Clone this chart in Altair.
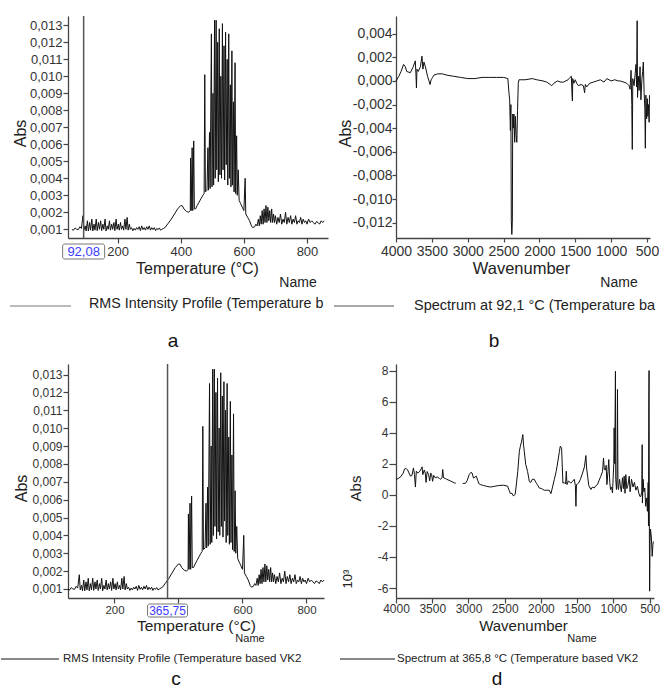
import altair as alt
import pandas as pd

# ---------------- data ----------------
# RMS intensity profile: (temperature °C, Abs)
rms_points = [
    (55, 0.00098), (60, 0.00095), (65, 0.00108), (70, 0.00100), (75, 0.00098), (80, 0.00115),
    (85, 0.00105), (90, 0.00180), (93, 0.00095), (97, 0.00120), (100, 0.00090), (104, 0.00150),
    (107, 0.00090), (111, 0.00140), (114, 0.00095), (118, 0.00160), (121, 0.00090), (125, 0.00130),
    (128, 0.00095), (132, 0.00160), (135, 0.00092), (139, 0.00140), (142, 0.00100), (146, 0.00150),
    (149, 0.00092), (153, 0.00130), (156, 0.00100), (160, 0.00160), (163, 0.00090), (167, 0.00120),
    (170, 0.00100), (174, 0.00150), (177, 0.00095), (181, 0.00130), (184, 0.00100), (188, 0.00140),
    (191, 0.00092), (195, 0.00160), (198, 0.00100), (202, 0.00130), (205, 0.00095), (209, 0.00140),
    (212, 0.00100), (216, 0.00120), (219, 0.00095), (223, 0.00160), (226, 0.00100), (230, 0.00170),
    (233, 0.00095), (237, 0.00130), (240, 0.00100), (244, 0.00110), (248, 0.00092), (252, 0.00105),
    (256, 0.00095), (260, 0.00110), (264, 0.00100), (268, 0.00115), (272, 0.00092), (276, 0.00120),
    (280, 0.00098), (284, 0.00110), (288, 0.00095), (292, 0.00115), (296, 0.00100), (300, 0.00120),
    (304, 0.00095), (308, 0.00110), (312, 0.00098), (316, 0.00110), (320, 0.00092), (324, 0.00105),
    (328, 0.00098), (332, 0.00108), (336, 0.00095), (340, 0.00100), (345, 0.00105), (350, 0.00110),
    (360, 0.00135), (370, 0.00160), (380, 0.00190), (390, 0.00220), (400, 0.00240), (405, 0.00238),
    (410, 0.00220), (418, 0.00205), (425, 0.00200), (430, 0.00210), (431, 0.00520), (433, 0.00210),
    (436, 0.00580), (438, 0.00210), (441, 0.00620), (443, 0.00220), (447, 0.00220), (452, 0.00240),
    (458, 0.00260), (464, 0.00280), (470, 0.00300), (474, 0.00310), (476, 0.01010), (478, 0.00320),
    (483, 0.00330), (486, 0.00580), (488, 0.00330), (491, 0.00670), (493, 0.00340), (497, 0.01250),
    (499, 0.00350), (502, 0.00900), (504, 0.00360), (507, 0.01330), (509, 0.00400), (512, 0.01330),
    (514, 0.00450), (517, 0.01200), (519, 0.00380), (522, 0.01280), (524, 0.00420), (527, 0.01000),
    (529, 0.00400), (532, 0.01310), (534, 0.00450), (537, 0.01180), (539, 0.00390), (542, 0.01260),
    (544, 0.00480), (547, 0.01100), (549, 0.00360), (552, 0.01250), (554, 0.00400), (557, 0.00950),
    (559, 0.00350), (562, 0.01150), (564, 0.00360), (567, 0.00850), (569, 0.00320), (572, 0.01080),
    (574, 0.00310), (577, 0.00650), (579, 0.00300), (582, 0.00450), (585, 0.00270), (590, 0.00250),
    (595, 0.00230), (600, 0.00210), (604, 0.00400), (606, 0.00190), (612, 0.00170), (618, 0.00150),
    (624, 0.00120), (628, 0.00110), (634, 0.00115), (638, 0.00130), (642, 0.00120), (646, 0.00160),
    (649, 0.00120), (652, 0.00180), (655, 0.00130), (658, 0.00210), (661, 0.00130), (664, 0.00220),
    (667, 0.00140), (670, 0.00240), (673, 0.00140), (676, 0.00230), (679, 0.00150), (682, 0.00210),
    (685, 0.00140), (688, 0.00220), (691, 0.00140), (694, 0.00190), (697, 0.00140), (700, 0.00180),
    (704, 0.00130), (708, 0.00170), (712, 0.00140), (716, 0.00190), (720, 0.00130), (724, 0.00160),
    (728, 0.00140), (732, 0.00200), (736, 0.00130), (740, 0.00170), (744, 0.00140), (748, 0.00180),
    (752, 0.00130), (756, 0.00160), (760, 0.00140), (764, 0.00180), (768, 0.00130), (772, 0.00150),
    (776, 0.00140), (780, 0.00170), (784, 0.00130), (788, 0.00160), (792, 0.00140), (796, 0.00150),
    (800, 0.00130), (805, 0.00160), (810, 0.00140), (815, 0.00150), (820, 0.00140), (825, 0.00130),
    (830, 0.00145), (835, 0.00140), (840, 0.00130), (845, 0.00150), (850, 0.00140), (855, 0.00150),
]
rms_temp = [p[0] for p in rms_points]
rms_abs = [p[1] for p in rms_points]

# Spectrum at 92,1 °C: (wavenumber, Abs)
spec_b_points = [
    (4000, 0.0000), (3960, 0.0004), (3930, 0.0008), (3894, 0.0014), (3870, 0.0012), (3850, 0.0008),
    (3800, 0.0007), (3760, 0.0012), (3731, 0.0017), (3722, 0.0006), (3715, -0.0006), (3708, 0.0010),
    (3690, 0.0008), (3660, 0.0012), (3638, 0.0021), (3625, 0.0010), (3610, 0.0016), (3590, 0.0012),
    (3560, 0.0004), (3540, 0.0000), (3525, -0.0003), (3510, 0.0001), (3490, 0.0003), (3470, 0.0005),
    (3420, 0.0006), (3350, 0.0006), (3300, 0.0005), (3200, 0.0004), (3100, 0.0003), (3000, 0.0002),
    (2900, 0.0002), (2800, 0.0003), (2700, 0.0003), (2600, 0.0003), (2500, 0.0003), (2440, 0.0002),
    (2425, -0.0010), (2415, -0.0016), (2405, -0.0042), (2398, -0.0020), (2392, -0.0118), (2385, -0.0130),
    (2378, -0.0120), (2372, -0.0028), (2365, -0.0040), (2355, -0.0028), (2345, -0.0052), (2335, -0.0030),
    (2325, -0.0046), (2315, -0.0052), (2305, -0.0025), (2295, -0.0002), (2285, 0.0001), (2270, 0.0001),
    (2200, 0.0001), (2100, 0.0002), (2036, 0.0001), (1950, 0.0000), (1897, -0.0001), (1850, -0.0003),
    (1827, -0.0004), (1800, -0.0002), (1750, 0.0000), (1700, -0.0001), (1666, -0.0001), (1600, 0.0001),
    (1573, 0.0003), (1555, 0.0004), (1545, -0.0012), (1540, -0.0017), (1535, 0.0002), (1520, -0.0002),
    (1500, 0.0001), (1480, -0.0002), (1457, -0.0004), (1420, -0.0003), (1387, -0.0004), (1370, -0.0010),
    (1360, -0.0003), (1340, -0.0005), (1300, -0.0002), (1250, -0.0001), (1200, 0.0000), (1150, 0.0001),
    (1100, -0.0001), (1060, 0.0002), (1000, 0.0000), (950, 0.0001), (900, 0.0000), (875, 0.0000),
    (820, -0.0001), (782, -0.0002), (750, -0.0004), (736, -0.0007), (722, 0.0009), (712, -0.0020),
    (705, -0.0058), (698, 0.0002), (680, -0.0004), (665, 0.0006), (653, 0.0014), (645, -0.0005),
    (637, 0.0051), (632, -0.0014), (620, 0.0004), (610, -0.0008), (597, 0.0012), (585, -0.0016),
    (570, 0.0002), (560, 0.0008), (551, 0.0016), (540, -0.0010), (530, -0.0023), (523, -0.0057),
    (515, -0.0012), (505, -0.0032), (495, -0.0015), (488, -0.0030), (480, -0.0020), (470, -0.0035),
    (465, -0.0012),
]
spec_b_wn = [p[0] for p in spec_b_points]
spec_b_abs = [p[1] for p in spec_b_points]

# Spectrum at 365,8 °C (Abs in units of 10^-3), two segments (gap ~3170-3080)
spec_d1_points = [
    (4000, 0.98), (3970, 1.05), (3938, 1.15), (3900, 1.40), (3883, 1.66), (3860, 1.70), (3840, 1.60),
    (3800, 1.20), (3780, 1.25), (3759, 1.73), (3745, 1.30), (3732, 0.50), (3720, 1.52), (3700, 1.40),
    (3670, 1.52), (3640, 1.80), (3630, 1.30), (3610, 1.60), (3596, 1.40), (3585, 0.80), (3570, 1.50),
    (3550, 1.30), (3535, 0.90), (3520, 1.40), (3508, 1.30), (3495, 0.87), (3480, 1.25), (3460, 1.10),
    (3430, 1.15), (3400, 1.05), (3383, 1.00), (3365, 1.10), (3355, 1.63), (3345, 1.10), (3320, 1.05),
    (3300, 1.00), (3250, 0.90), (3194, 0.77), (3175, 0.75),
]
spec_d2_points = [
    (3080, 0.73), (3040, 0.75), (3020, 0.90), (2990, 1.30), (2965, 1.45), (2950, 1.40), (2930, 1.08),
    (2892, 1.20), (2870, 0.90), (2860, 0.73), (2830, 0.65), (2792, 0.60), (2750, 0.55), (2696, 0.50),
    (2640, 0.55), (2581, 0.60), (2520, 0.62), (2460, 0.56), (2440, 0.30), (2421, 0.08), (2400, 0.10),
    (2385, -0.05), (2372, -0.06), (2355, 0.05), (2345, 0.44), (2320, 1.50), (2298, 2.80), (2285, 3.10),
    (2267, 3.45), (2250, 3.88), (2240, 3.20), (2230, 2.80), (2210, 1.95), (2184, 1.50), (2160, 0.85),
    (2140, 0.80), (2120, 1.00), (2092, 1.00), (2070, 0.80), (2050, 0.66), (2023, 0.44), (1990, 0.40),
    (1954, 0.29), (1920, 0.30), (1885, 0.29), (1862, 0.08), (1840, 0.50), (1816, 0.98), (1790, 1.50),
    (1770, 2.05), (1745, 2.80), (1733, 3.13), (1715, 3.00), (1697, 0.76), (1680, 0.80), (1660, 0.70),
    (1650, 1.52), (1641, 0.66), (1620, 0.90), (1590, 0.75), (1564, 0.87), (1540, 1.00), (1525, 0.60),
    (1517, -0.74), (1510, 0.66), (1495, 0.70), (1480, 0.76), (1455, 1.00), (1426, 1.40), (1400, 1.80),
    (1380, 2.53), (1370, 1.73), (1356, 1.20), (1340, 0.60), (1311, 0.34), (1290, 0.50), (1265, 0.44),
    (1240, 0.60), (1220, 0.66), (1200, 0.90), (1174, 1.20), (1150, 1.50), (1137, 2.37), (1125, 1.63),
    (1110, 1.60), (1100, 1.90), (1090, 0.66), (1075, 1.50), (1064, 2.27), (1050, 0.80), (1040, 0.34),
    (1025, 0.50), (1013, 0.12), (995, 2.00), (990, 4.31), (982, 2.00), (972, 7.95), (968, 1.00),
    (958, 0.34), (950, 1.20), (944, 6.78), (937, 0.50), (930, 0.34), (915, 1.00), (905, 0.60),
    (891, 0.20), (875, 1.10), (862, 0.40), (852, 1.20), (840, 0.10), (829, 1.30), (815, 0.40),
    (800, 0.60), (782, 1.20), (770, 0.20), (750, 1.00), (730, 0.50), (710, 0.80), (690, 0.30),
    (669, 0.55), (650, 0.12), (635, -0.10), (622, -0.10), (608, 0.20), (603, 3.23), (600, -0.53),
    (590, 1.00), (580, 0.20), (567, 0.44), (555, -0.74), (540, -0.20), (531, -1.06), (520, 0.80),
    (516, -2.00), (512, 5.91), (508, 8.00), (505, -1.00), (500, -6.20), (495, -3.00), (488, -2.20),
    (476, -2.78), (465, -3.96), (455, -3.20), (448, -3.00),
]

temp_ticks = [200, 400, 600, 800]
wn_ticks = [4000, 3500, 3000, 2500, 2000, 1500, 1000, 500]
rms_ticks = [0.001, 0.002, 0.003, 0.004, 0.005, 0.006, 0.007, 0.008, 0.009, 0.010, 0.011, 0.012, 0.013]
b_ticks = [-0.012, -0.010, -0.008, -0.006, -0.004, -0.002, 0.000, 0.002, 0.004]
d_ticks = [-6, -4, -2, 0, 2, 4, 6, 8]

# ---------------- tables ----------------
rms_df = pd.DataFrame({"x": rms_temp, "y": rms_abs})
b_df = pd.DataFrame({"x": spec_b_wn, "y": spec_b_abs})
d_df = pd.concat([
    pd.DataFrame({"x": [p[0] for p in spec_d1_points], "y": [p[1] for p in spec_d1_points], "seg": "1"}),
    pd.DataFrame({"x": [p[0] for p in spec_d2_points], "y": [p[1] for p in spec_d2_points], "seg": "2"}),
])
one = pd.DataFrame({"k": [0]})

LINE = "#111111"
FONT = "Arial"
INT = "format(datum.value, 'd')"
INT_NO400 = "datum.value == 400 ? '' : format(datum.value, 'd')"
COMMA3 = "replace(format(datum.value, '.3f'), '.', ',')"
SIGNED3 = "(datum.value < 0 ? '-' : '') + replace(format(abs(datum.value), '.3f'), '.', ',')"
SIGNEDINT = "(datum.value < 0 ? '-' : '') + format(abs(datum.value), 'd')"
CUT = "\u200b"


def axis(title, values, label_expr, size, title_size, tick, pad, tx, ty, font=FONT, label_font=FONT):
    return alt.Axis(
        title=title, values=values, labelExpr=label_expr, grid=False,
        labelFont=label_font, labelFontSize=size, labelColor="#333333",
        titleFont=font, titleFontSize=title_size, titleFontWeight="normal", titleColor="#222222",
        domainColor="#444444", tickColor="#444444", domainWidth=1.3, tickWidth=1.2,
        tickSize=tick, labelPadding=pad, titleX=tx, titleY=ty,
        titleBaseline="middle", titleAlign="center", labelOverlap=False, labelFlush=False,
    )


def text(t, x, y, size, color="#222222", align="center", limit=None, angle=None, font=FONT):
    kw = dict(text=t, fontSize=size, color=color, font=font, align=align, baseline="middle")
    if limit is not None:
        kw.update(limit=limit, ellipsis=CUT)
    if angle is not None:
        kw["angle"] = angle
    return alt.Chart(one).mark_text(**kw).encode(x=alt.value(x), y=alt.value(y))


def legline(x1, x2, y, color):
    return alt.Chart(one).mark_rule(color=color, strokeWidth=1).encode(
        x=alt.value(x1), x2=alt.value(x2), y=alt.value(y))


def cursor(X, value, label, y1, y2, half, size, font=FONT):
    cdf = pd.DataFrame({"x": [value], "lab": [label]})
    rule = alt.Chart(cdf).mark_rule(color="#555555", strokeWidth=1.5).encode(x=X)
    box = alt.Chart(cdf).mark_rect(
        fill="white", stroke="#777777", strokeWidth=1, cornerRadius=2,
        xOffset=-half, x2Offset=half,
    ).encode(x=X, x2="x:Q", y=alt.value(y1), y2=alt.value(y2))
    lab = alt.Chart(cdf).mark_text(
        color="#3b3bff", fontSize=size, font=font, baseline="middle"
    ).encode(x=X, y=alt.value((y1 + y2) / 2), text="lab:N")
    return [rule, box, lab]


# ---------------- panel a ----------------
Wa, Ha = 260, 222
Xa = alt.X("x:Q", scale=alt.Scale(domain=[42.5, 866.6], nice=False, zero=False),
           axis=axis("Temperature (°C)", temp_ticks, INT, 13, 16, 5, 2, 129, 30))
Ya = alt.Y("y:Q", scale=alt.Scale(domain=[0.000488, 0.01355], nice=False, zero=False),
           axis=axis("Abs", rms_ticks, COMMA3, 13, 16, 5, 1, -47.5, 117))
line_a = alt.Chart(rms_df).mark_line(color=LINE, strokeWidth=1).encode(x=Xa, y=Ya)
pa = alt.layer(
    line_a,
    *cursor(Xa, 92.08, "92,08", 228, 243, 21, 13),
    text("Name", 230, 267, 14),
    legline(-58, 3, 290, "#777777"),
    text("RMS Intensity Profile (Temperature based VK2", 21, 288, 14.3, align="left", limit=242),
    text("a", 105, 325, 19, color="#111111"),
).properties(width=Wa, height=Ha)

# ---------------- panel b ----------------
Wb, Hb = 254, 222
Xb = alt.X("x:Q", scale=alt.Scale(domain=[4000, 458], nice=False, zero=False),
           axis=axis("Wavenumber", wn_ticks, INT, 14, 16.5, 4, 2, 125, 30))
Yb = alt.Y("y:Q", scale=alt.Scale(domain=[-0.0133, 0.0055], nice=False, zero=False),
           axis=axis("Abs", b_ticks, SIGNED3, 14, 16, 4, 0, -51, 117))
pb = alt.layer(
    alt.Chart(b_df).mark_line(color=LINE, strokeWidth=1).encode(
        x=Xb, y=Yb, order=alt.Order("ord:Q")).transform_window(ord="row_number()"),
    text("Name", 223, 267, 14),
    legline(-62, -2, 290, "#555555"),
    text("Spectrum at 92,1 °C (Temperature based VK2", 18, 290, 14.5, align="left", limit=247),
    text("b", 98, 325, 19, color="#111111"),
).properties(width=Wb, height=Hb)

# ---------------- panel c ----------------
Wc, Hc = 256, 234
Xc = alt.X("x:Q", scale=alt.Scale(domain=[54.7, 854.7], nice=False, zero=False),
           axis=axis("Temperature (°C)", temp_ticks, INT_NO400, 11.5, 15.5, 5, 1, 128, 27))
Yc = alt.Y("y:Q", scale=alt.Scale(domain=[0.000496, 0.01359], nice=False, zero=False),
           axis=axis("Abs", rms_ticks, COMMA3, 12, 16, 5, 1, -47, 124))
line_c = alt.Chart(rms_df).mark_line(color=LINE, strokeWidth=1).encode(x=Xc, y=Yc)
pc = alt.layer(
    line_c,
    *cursor(Xc, 365.75, "365,75", 240, 253, 20, 12),
    text("Name", 182, 275, 11),
    legline(-67, -9, 295, "#111111"),
    text("RMS Intensity Profile (Temperature based VK2", -5, 295, 11.5, align="left", limit=268),
    text("c", 108, 315, 19, color="#111111"),
).properties(width=Wc, height=Hc)

# ---------------- panel d ----------------
Wd, Hd = 258, 234
Xd = alt.X("x:Q", scale=alt.Scale(domain=[4000, 440], nice=False, zero=False),
           axis=axis("Wavenumber", wn_ticks, INT, 12, 15, 5, 0, 127, 27))
Yd = alt.Y("y:Q", scale=alt.Scale(domain=[-6.64, 8.42], nice=False, zero=False),
           axis=axis("Abs", d_ticks, SIGNEDINT, 12, 15, 7, 1, -41, 124))
pd_ = alt.layer(
    alt.Chart(d_df).mark_line(color=LINE, strokeWidth=1).encode(
        x=Xd, y=Yd, detail="seg:N", order=alt.Order("ord:Q")).transform_window(ord="row_number()"),
    text("10³", -48, 215, 13, angle=270),
    text("Name", 186, 275, 11),
    legline(-56, -1, 295, "#111111"),
    text("Spectrum at 365,8 °C (Temperature based VK2", 1, 295, 11.5, align="left", limit=268),
    text("d", 101, 315, 19, color="#111111"),
).properties(width=Wd, height=Hd)

chart = alt.concat(pa, pb, pc, pd_, columns=2).properties(
    spacing={"row": 126, "column": 68},
    bounds="flush",
    align="none",
    padding={"left": 0, "top": 15, "right": 0, "bottom": 0},
    background="white",
).configure_view(stroke=None)

chart.save("out.html", embed_options={"renderer": "svg", "actions": False})
